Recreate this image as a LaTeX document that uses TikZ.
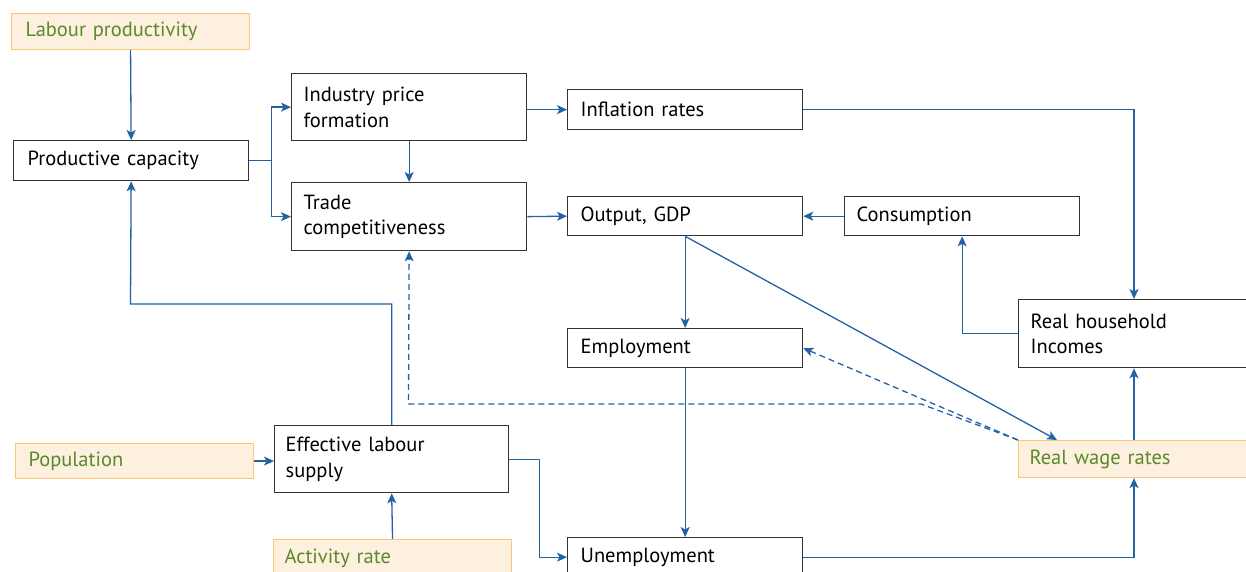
\documentclass[tikz,border=0pt]{standalone}
\usepackage{fontspec}
\setmainfont{PT Sans}
\usetikzlibrary{arrows.meta}
\definecolor{ablue}{HTML}{2462A6}
\definecolor{boxgray}{HTML}{333333}
\definecolor{cream}{HTML}{FDF0DE}
\definecolor{creamedge}{HTML}{FAC777}
\definecolor{igreen}{HTML}{5A8A2C}
\begin{document}
\begin{tikzpicture}[x=1pt,y=-1pt,
  box/.style={draw=boxgray, line width=1.3pt, fill=white, anchor=north west,
    inner xsep=14pt, inner ysep=0pt, align=left, text width=207pt,
    minimum width=235pt, font=\fontsize{20.5}{25.5}\selectfont, text=black},
  inbox/.style={box, draw=creamedge, fill=cream, text=igreen, line width=1.1pt,
    minimum width=238pt, text width=210pt},
  arr/.style={draw=ablue, line width=1.3pt, -{Stealth[length=10pt,width=9pt,inset=2.5pt]}},
  dsh/.style={arr, dash pattern=on 6pt off 4pt}
]
\clip (0,0) rectangle (1246,572);
\fill[white] (0,0) rectangle (1246,572);

% nodes
\node[inbox, minimum height=36pt] (lp) at (11,13) {Labour productivity};
\node[box, minimum height=40pt] (pc) at (13,140) {Productive capacity};
\node[box, minimum height=67pt, inner xsep=12pt, text width=211pt] (ip) at (291,73) {Industry price\\formation};
\node[box, minimum height=68pt, inner xsep=12pt, text width=211pt] (tc) at (291,182) {Trade\\competitiveness};
\node[box, minimum height=40pt, inner xsep=13pt, text width=209pt] (inf) at (567,89) {Inflation rates};
\node[box, minimum height=39pt, inner xsep=13pt, text width=209pt] (out) at (567,196) {Output, GDP};
\node[box, minimum height=39pt, inner xsep=12pt, text width=211pt] (con) at (844,196) {Consumption};
\node[box, minimum height=39pt, inner xsep=13pt, text width=209pt] (emp) at (567,328) {Employment};
\node[box, minimum height=68pt, minimum width=240pt, inner xsep=12pt, text width=216pt] (rhi) at (1018,299) {Real household\\Incomes};
\node[inbox, minimum height=35pt, inner xsep=13pt, text width=212pt] (pop) at (15,443) {Population};
\node[box, minimum height=67pt, minimum width=234pt, inner xsep=11pt, text width=212pt] (els) at (274,425) {Effective labour\\supply};
\node[inbox, minimum height=38pt, inner xsep=11pt, text width=216pt] (act) at (273,539) {Activity rate};
\node[box, minimum height=39pt, inner xsep=13pt, text width=209pt] (une) at (567,537) {Unemployment};
\node[inbox, minimum height=37pt, minimum width=240pt, inner xsep=11pt, text width=218pt] (rwr) at (1018,440) {Real wage rates};

% helper coordinates
\coordinate (cx) at (1134,0);
\coordinate (j1) at (130.5,304);
\coordinate (dd) at (921,404);
\coordinate (dl) at (408.5,404);
\coordinate (dg) at (1057,440);

% connectors
\draw[arr] (lp.south) -- (pc.north);
\draw[arr] (pc.east) -- ++(22,0) |- (ip.west);
\draw[arr] (pc.east) -- ++(22,0) |- (tc.west);
\draw[arr] (ip.south) -- (tc.north);
\draw[arr] (ip.east |- inf.west) -- (inf.west);
\draw[arr] (tc.east) -- (out.west);
\draw[arr] (inf.east) -| (cx |- rhi.north);
\draw[arr] (con.west) -- (out.east);
\draw[arr] (rhi.west) -| (con.south);
\draw[arr] (out.south) -- (emp.north);
\draw[arr] (out.south) -- (dg);
\draw[arr] (emp.south) -- (une.north);
\draw[arr] (une.east) -| (cx |- rwr.south);
\draw[arr] (cx |- rwr.north) -- (cx |- rhi.south);
\draw[arr] (els.north) |- (j1) -- (pc.south);
\draw[arr] (pop.east) -- (pop.east -| els.west);
\draw[arr] (act.north) -- (els.south);
\draw[arr] (els.east) -- ++(30,0) |- (une.west);
\draw[dsh] (rwr.north west) -- (emp.east);
\draw[dsh] (rwr.north west) -- (dd) -- (dl) -- (tc.south);
\end{tikzpicture}
\end{document}
